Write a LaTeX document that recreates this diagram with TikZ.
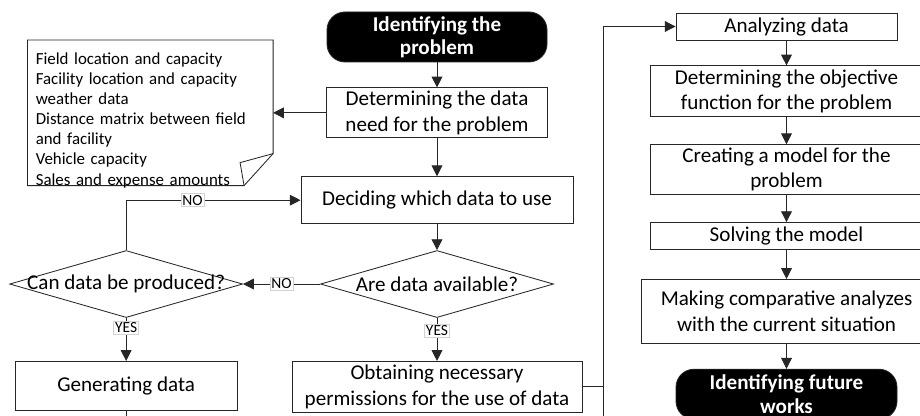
\documentclass[tikz,border=0pt]{standalone}
\usepackage{fontspec}
\setmainfont{Carlito}
\usepackage{tikz}
\usetikzlibrary{positioning,arrows.meta,shapes.geometric,calc}
\definecolor{blk}{HTML}{262626}
\tikzset{
  >={Triangle[length=2.7mm,width=2.7mm]},
  block/.style={draw=blk, semithick, fill=white, align=center, inner sep=1pt,
                font=\fontsize{15}{18}\selectfont},
  term/.style={block, fill=black, text=white, rounded corners=4.5mm,
               font=\fontsize{15}{16.5}\selectfont\bfseries},
  dec/.style={draw=blk, semithick, diamond, inner sep=0pt, minimum width=58.25mm,
              minimum height=16.75mm, font=\fontsize{15}{18}\selectfont},
  memo/.style={minimum width=61.25mm, minimum height=36.25mm, inner sep=0pt},
  memotext/.style={align=left, text width=57.25mm, inner sep=0pt,
                   font=\fontsize{12}{14.3}\selectfont},
  lbl/.style={fill=white, draw=gray!35, inner sep=1pt, font=\fontsize{11}{12}\selectfont},
  l/.style={->, semithick, draw=blk},
}

\begin{document}
\begin{tikzpicture}
  \useasboundingbox (0,0) rectangle (23,-10.4);
  \clip (0,0) rectangle (23,-10.4);
  % left part
  \node[term, minimum width=55mm, minimum height=12.5mm] (start) at (10.925,-0.925)
    {Identifying the\\problem};
  \node[block, minimum width=55.25mm, minimum height=12.5mm, below=6.25mm of start] (need)
    {Determining the data\\need for the problem};
  \node[memo, left=13.25mm of need] (memo) {};
  \draw[draw=blk, semithick, fill=white] (memo.north west) -- (memo.north east)
    -- ([yshift=8mm]memo.south east) -- ([xshift=-7.25mm]memo.south east)
    -- (memo.south west) -- cycle;
  \draw[draw=blk, semithick] ([yshift=8mm]memo.south east)
    -- ([shift={(-8.25mm,5.75mm)}]memo.south east) -- ([xshift=-7.25mm]memo.south east);
  \node[memotext, anchor=north west] (memotxt) at ([shift={(2mm,-3.1mm)}]memo.north west)
    {Field location and capacity\\
     Facility location and capacity\\
     weather data\\
     Distance matrix between field\\
     and facility\\
     Vehicle capacity\\
     Sales and expense amounts};
  \node[block, minimum width=68mm, minimum height=11.75mm, below=9.5mm of need] (use)
    {Deciding which data to use};
  \node[dec, below=6.5mm of use] (avail) {\makebox[0pt]{Are data available?}};
  \node[dec, left=19.25mm of avail] (prod) {\makebox[0pt]{Can data be produced?}};
  \node[block, minimum width=72.5mm, minimum height=12.75mm, below=10.75mm of avail] (perm)
    {Obtaining necessary\\permissions for the use of data};
  \node[block, minimum width=55.5mm, minimum height=12.25mm, below=10.75mm of prod] (gen)
    {Generating data};
  % right part
  \node[block, minimum width=55.25mm, minimum height=6.75mm] (ana) at (19.6625,-0.6625)
    {Analyzing data};
  \node[block, minimum width=68mm, minimum height=12.75mm, below=6.25mm of ana] (obj)
    {Determining the objective\\function for the problem};
  \node[block, minimum width=68mm, minimum height=12.5mm, below=6.75mm of obj] (model)
    {Creating a model for the\\problem};
  \node[block, minimum width=68mm, minimum height=6.75mm, below=6.75mm of model] (solve)
    {Solving the model};
  \node[block, minimum width=72.5mm, minimum height=16mm, below=7.25mm of solve] (comp)
    {Making comparative analyzes\\with the current situation};
  \node[term, minimum width=55.25mm, minimum height=12.5mm, below=6.25mm of comp] (future)
    {Identifying future\\works};
  \coordinate (bus) at (15.075,-10.9);

  \draw[l] (start) -- (need);
  \draw[l] (need) -- (memo.east |- need);
  \draw[l] (need) -- (use);
  \draw[l] (use) -- (avail);
  \draw[l] (avail) -- node[lbl]{NO} (prod);
  \draw[l] (prod.north) |- node[lbl, pos=0.69]{NO} (use.west);
  \draw[l] (prod) -- node[lbl, pos=0.23]{YES} (gen);
  \draw[l] (avail) -- node[lbl, pos=0.3]{YES} (perm);
  \draw[l] (gen) -- (gen |- bus) -- (bus) |- (ana);
  \draw[draw=blk, semithick] (perm) -- (perm -| bus);
  \draw[l] (ana) -- (obj);
  \draw[l] (obj) -- (model);
  \draw[l] (model) -- (solve);
  \draw[l] (solve) -- (comp);
  \draw[l] (comp) -- (future);
\end{tikzpicture}
\end{document}
